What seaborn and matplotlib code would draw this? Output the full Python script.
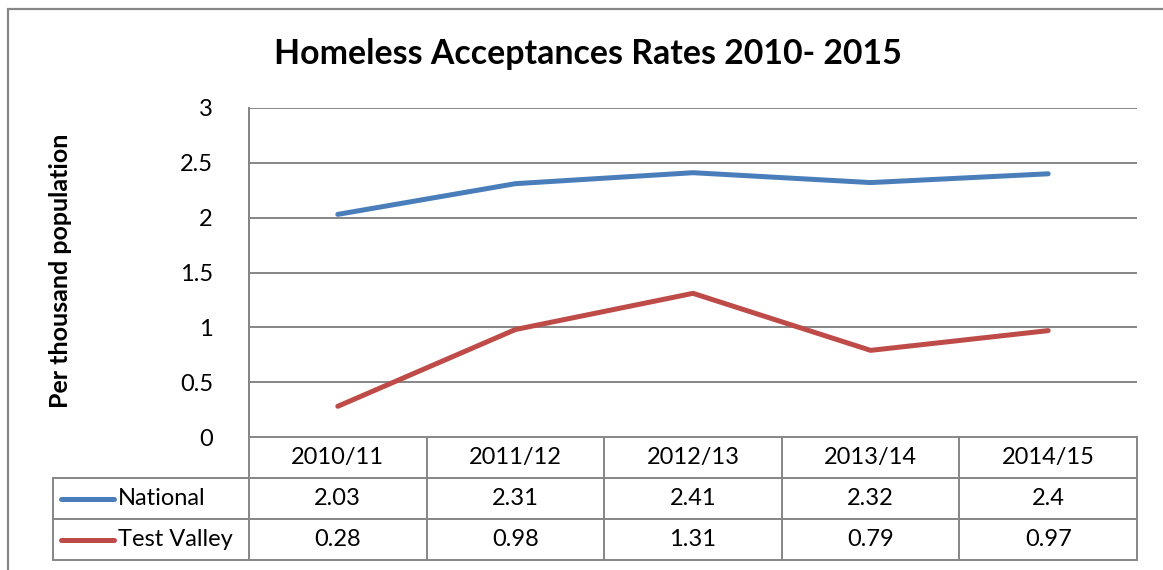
import matplotlib
matplotlib.use("Agg")
import matplotlib.pyplot as plt
from matplotlib.patches import Rectangle
from matplotlib.lines import Line2D
import seaborn as sns
import pandas as pd

# Data
periods = ["2010/11", "2011/12", "2012/13", "2013/14", "2014/15"]
national = [2.03, 2.31, 2.41, 2.32, 2.4]
test_valley = [0.28, 0.98, 1.31, 0.79, 0.97]
series_names = ["National", "Test Valley"]
series_colors = ["#4A7EBB", "#BE4B48"]
y_ticks = [0, 0.5, 1, 1.5, 2, 2.5, 3]
y_tick_labels = ["0", "0.5", "1", "1.5", "2", "2.5", "3"]

df = pd.DataFrame({
    "period": periods * 2,
    "value": national + test_valley,
    "series": [series_names[0]] * len(periods) + [series_names[1]] * len(periods),
})

sns.set_theme(style="white")
plt.rcParams["font.family"] = ["Lato", "DejaVu Sans"]

W, H = 1163, 570
fig = plt.figure(figsize=(W / 100, H / 100), dpi=100)

def fx(px):
    return px / W

def fy(py):
    return 1 - py / H

left, right, top, bottom = 249, 1137, 108, 437
ax = fig.add_axes([fx(left), fy(bottom), fx(right - left), (bottom - top) / H])

grid_col = "#868686"
text_col = "#000000"
body_size = 17

sns.lineplot(data=df, x="period", y="value", hue="series", hue_order=series_names,
             palette=series_colors, linewidth=3.6, legend=False, ax=ax,
             solid_capstyle="round")

ax.set_xlim(-0.5, len(periods) - 0.5)
ax.set_ylim(0, 3)
ax.set_yticks(y_ticks)
ax.set_yticklabels(y_tick_labels, fontsize=body_size, color=text_col)
ax.tick_params(axis="y", length=0, pad=26)
ax.set_xticks([])
ax.set_xlabel("")
ax.set_ylabel("")
for yv in y_ticks[1:]:
    ax.axhline(yv, color=grid_col, linewidth=1.4, zorder=0)
for s in ["top", "right", "bottom"]:
    ax.spines[s].set_visible(False)
ax.spines["left"].set_color(grid_col)
ax.spines["left"].set_linewidth(1.4)

# Data table below the plot area
row_h = 41
rows_top = bottom
label_left = 53
col_edges = [left + i * (right - left) / len(periods) for i in range(len(periods) + 1)]

def hline(y, x0, x1):
    fig.add_artist(Line2D([fx(x0), fx(x1)], [fy(y), fy(y)], color=grid_col, linewidth=1.4))

def vline(x, y0, y1):
    fig.add_artist(Line2D([fx(x), fx(x)], [fy(y0), fy(y1)], color=grid_col, linewidth=1.4))

table_bottom = rows_top + 3 * row_h
hline(rows_top, left, right)
hline(rows_top + row_h, label_left, right)
hline(rows_top + 2 * row_h, label_left, right)
hline(table_bottom, label_left, right)
vline(left, top, table_bottom)
vline(label_left, rows_top + row_h, table_bottom)
for x in col_edges[1:]:
    vline(x, rows_top, table_bottom)

for i, p in enumerate(periods):
    cx = (col_edges[i] + col_edges[i + 1]) / 2
    fig.text(fx(cx), fy(rows_top + row_h / 2), p, ha="center", va="center",
             fontsize=body_size, color=text_col)

for r, (name, vals, col) in enumerate(zip(series_names, [national, test_valley], series_colors)):
    cy = rows_top + row_h * (r + 1.5)
    fig.add_artist(Line2D([fx(61), fx(114)], [fy(cy), fy(cy)], color=col,
                          linewidth=3.6, solid_capstyle="round"))
    fig.text(fx(118), fy(cy), name, ha="left", va="center", fontsize=body_size, color=text_col)
    for i, v in enumerate(vals):
        cx = (col_edges[i] + col_edges[i + 1]) / 2
        fig.text(fx(cx), fy(cy), f"{v:g}", ha="center", va="center",
                 fontsize=body_size, color=text_col)

# Title and axis label
fig.text(fx(588), fy(54), "Homeless Acceptances Rates 2010- 2015", ha="center", va="center",
         fontsize=24.4, fontweight="bold", color=text_col)
fig.text(fx(61), fy(271), "Per thousand population", ha="center", va="center",
         rotation=90, fontsize=18, fontweight="bold", color=text_col)

# Chart border
fig.add_artist(Rectangle((fx(8), fy(H + 20)), fx(W + 20), fy(9) - fy(H + 20),
                         fill=False, edgecolor=grid_col, linewidth=1.6))

fig.savefig("out.png", dpi=100)
